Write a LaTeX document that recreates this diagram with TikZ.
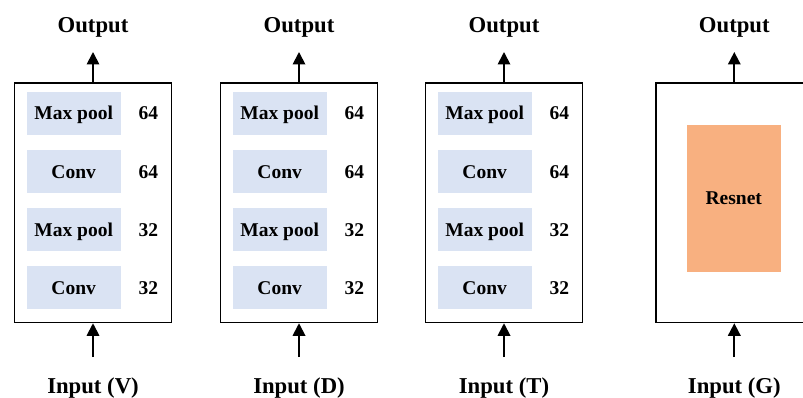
\documentclass[tikz,border=0pt]{standalone}
\usepackage{fontspec}
\setmainfont{Liberation Serif}
\usetikzlibrary{arrows.meta}
\definecolor{layerblue}{HTML}{DAE3F3}
\definecolor{resorange}{HTML}{F8B080}
\begin{document}
\begin{tikzpicture}[x=1pt,y=-1pt,
  frame/.style={draw=black, line width=1.5pt, minimum width=157pt, minimum height=239.5pt, inner sep=0pt},
  layer/.style={fill=layerblue, minimum width=94pt, minimum height=43.3pt, inner sep=0pt,
    text height=13.4pt, text depth=0pt, font=\fontsize{19.5}{20}\selectfont\bfseries},
  chan/.style={inner sep=0pt, text height=13.4pt, text depth=0pt, font=\fontsize{19.5}{20}\selectfont\bfseries},
  io/.style={anchor=base, inner sep=0pt, font=\fontsize{22.7}{24}\selectfont\bfseries},
  flow/.style={line width=1.8pt, -{Triangle[length=12.5pt,width=12.5pt]}}]
\useasboundingbox (0,0) rectangle (803,398);
\clip (0,0) rectangle (803,398);

% three small CNN branches
\foreach \cx/\m [count=\i] in {93/V,299/D,504/T} {
  \node[frame] (box\i) at (\cx,202.75) {};
  \node[layer] (mp\i a) at (\cx-19.3,113.3) {Max pool};
  \node[layer] (cv\i a) at (\cx-19.3,171.7) {Conv};
  \node[layer] (mp\i b) at (\cx-19.3,229.5) {Max pool};
  \node[layer] (cv\i b) at (\cx-19.3,287.7) {Conv};
  \node[chan] (n\i a) at (\cx+55.3,113.3) {64};
  \node[chan] (n\i b) at (\cx+55.3,171.7) {64};
  \node[chan] (n\i c) at (\cx+55.3,229.5) {32};
  \node[chan] (n\i d) at (\cx+55.3,287.7) {32};
  \node[io] (out\i) at (\cx,32.5) {Output};
  \node[io] (in\i) at (\cx,393) {Input (\m)};
  \coordinate (tip\i) at (\cx,52);
  \coordinate (src\i) at (\cx,357);
  \draw[flow] (box\i.north) -- (tip\i);
  \draw[flow] (src\i) -- (box\i.south);
}

% ResNet branch
\node[frame] (box4) at (734.3,202.75) {};
\node[fill=resorange, minimum width=94.3pt, minimum height=146.7pt, inner sep=0pt,
  text height=13.4pt, text depth=0pt,
  font=\fontsize{19.5}{20}\selectfont\bfseries] (res) at (733.8,198.3) {Resnet};
\node[io] (out4) at (734.3,32.5) {Output};
\node[io] (in4) at (734.3,393) {Input (G)};
\coordinate (tip4) at (734.3,52);
\coordinate (src4) at (734.3,357);
\draw[flow] (box4.north) -- (tip4);
\draw[flow] (src4) -- (box4.south);
\end{tikzpicture}
\end{document}
